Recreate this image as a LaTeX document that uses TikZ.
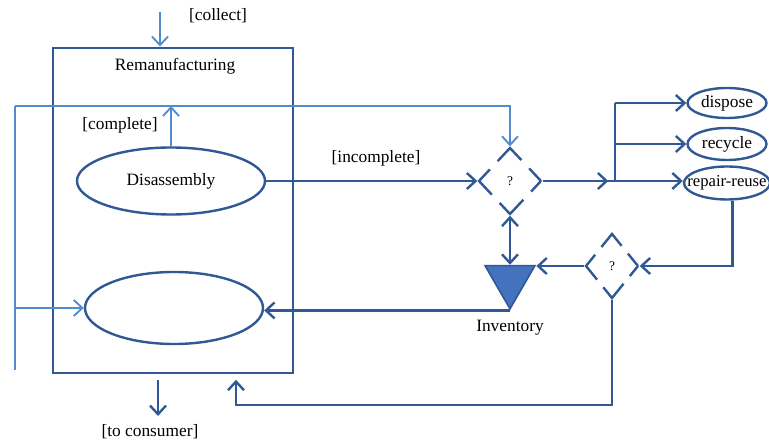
\documentclass[tikz,border=0pt]{standalone}
\usepackage{fontspec}
\setmainfont{Liberation Serif}
\usetikzlibrary{arrows.meta,shapes,positioning,calc}
\definecolor{dkblue}{RGB}{47,88,148}
\definecolor{ltblue}{RGB}{82,140,206}
\definecolor{invblue}{RGB}{68,114,190}

\begin{document}
\begin{tikzpicture}[x=0.75pt, y=-0.75pt,
    font=\fontsize{13}{15}\selectfont,
    >={Straight Barb[length=6.5pt,width=12pt]},
    dk/.style={draw=dkblue, line width=1.8pt},
    lt/.style={draw=ltblue, line width=1.4pt},
    activity/.style={ellipse, draw=dkblue, line width=1.8pt, inner sep=0pt},
    decision/.style={diamond, draw=dkblue, line width=1.8pt, inner sep=0pt,
        font=\fontsize{10}{12}\selectfont}]
    \useasboundingbox (0,0) rectangle (769,441);

    % Remanufacturing
    \node[draw=dkblue, line width=2.2pt, minimum width=180pt, minimum height=243.75pt] (reman) at (173,210.5) {};
    \node (remanlbl) at (175,66) {Remanufacturing};
    \node[activity, minimum width=141pt, minimum height=50.25pt] (dis) at (171,181) {Disassembly};
    \node[activity, minimum width=133.5pt, minimum height=54pt] (lower) at (174,308) {};

    % decisions and inventory
    \node[decision, minimum width=47.25pt, minimum height=50.25pt,
          dash pattern=on 26pt off 8.5pt, dash phase=13pt] (d1) at (510,181) {?};
    \node[decision, minimum width=39.75pt, minimum height=48.75pt,
          dash pattern=on 24pt off 7.5pt, dash phase=12pt] (d2) at (612,266) {?};
    \node[regular polygon, regular polygon sides=3, shape border rotate=180, inner sep=0pt,
          minimum size=43.3pt, fill=invblue, draw=dkblue, line width=1.2pt] (inv) at (510,280) {};

    % outcomes
    \node[activity, minimum width=59.25pt, minimum height=22.5pt] (dispose) at (727,103) {dispose};
    \node[activity, minimum width=59.25pt, minimum height=24pt] (recycle) at (727,144) {recycle};
    \node[activity, minimum width=64.5pt, minimum height=24.75pt] (rep) at (727,183)
        {\makebox[0pt]{\fontsize{12.5}{15}\selectfont repair-reuse}};

    % labels
    \node (collectlbl) at (218,16) {[collect]};
    \node (completelbl) at (120,125) {[complete]};
    \node (incompletelbl) at (376,158) {[incomplete]};
    \node (consumerlbl) at (150,432) {[to consumer]};
    \node (invlbl) at (510,328) {Inventory};

    \coordinate (collin) at (160,12);
    \coordinate (fbend) at (15,370);
    \coordinate (fbtop) at (15,106);
    \coordinate (fork) at (615,181);
    \coordinate (ret) at (236,405);
    \coordinate (out) at (158,416);

    % light flows
    \draw[lt,->] (collin) -- (collin |- reman.north);
    \draw[lt] (fbend) -- (fbtop);
    \draw[lt,->] (fbtop) -| (d1.north);
    \draw[lt,->] (fbend |- lower.west) -- (lower.west);
    \draw[lt,->] (dis.north) -- (dis.north |- fbtop);

    % dark flows
    \draw[dk,->] (dis.east) -- (d1.west);
    \draw[dk] (d1.east) -- (fork);
    \draw[dk,->] (d1.east) -- ([xshift=-5pt]fork);
    \draw[dk] (fork |- dispose.west) -- (fork);
    \draw[dk,->] (fork |- dispose.west) -- (dispose.west);
    \draw[dk,->] (fork |- recycle.west) -- (recycle.west);
    \draw[dk,->] (fork) -- (fork -| rep.west);
    \draw[dk,->] ([xshift=4pt]rep.south) |- (d2.east);
    \draw[dk,->] (d2.west) -- (d2.west -| inv.corner 2);
    \draw[dk,<->] (d1.south) -- (inv.north);
    \draw[dk,->] (inv.south) -- (inv.south -| lower.east);
    \draw[dk,->,shorten >=4pt] (d2.south) |- (ret) -- (ret |- reman.south);
    \draw[dk,->,shorten <=4pt] (out |- reman.south) -- (out);
\end{tikzpicture}
\end{document}
